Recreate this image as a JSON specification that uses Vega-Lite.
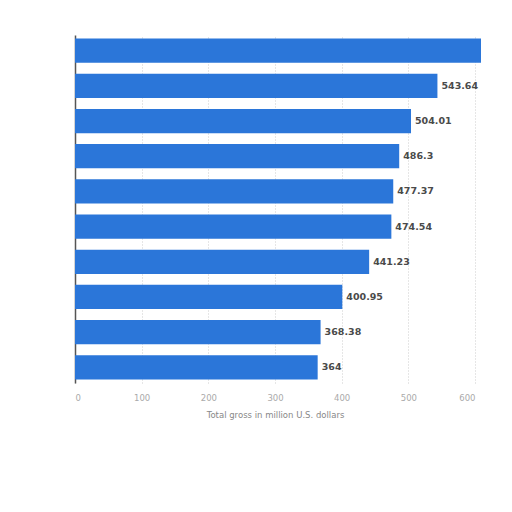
{
  "$schema": "https://vega.github.io/schema/vega-lite/v6.json",
  "width": 400,
  "height": 348,
  "autosize": "none",
  "padding": {"left": 75, "top": 35, "right": 37, "bottom": 129},
  "background": "white",
  "data": {
    "values": [
      {"rank": "1", "gross": 609, "label": ""},
      {"rank": "2", "gross": 543.64, "label": "543.64"},
      {"rank": "3", "gross": 504.01, "label": "504.01"},
      {"rank": "4", "gross": 486.3, "label": "486.3"},
      {"rank": "5", "gross": 477.37, "label": "477.37"},
      {"rank": "6", "gross": 474.54, "label": "474.54"},
      {"rank": "7", "gross": 441.23, "label": "441.23"},
      {"rank": "8", "gross": 400.95, "label": "400.95"},
      {"rank": "9", "gross": 368.38, "label": "368.38"},
      {"rank": "10", "gross": 364, "label": "364"}
    ]
  },
  "encoding": {
    "y": {
      "field": "rank",
      "type": "nominal",
      "sort": null,
      "scale": {"paddingInner": 0.31, "paddingOuter": 0.1},
      "axis": {"labels": false, "ticks": false, "title": null, "domainColor": "#555", "domainWidth": 1.5}
    },
    "x": {
      "field": "gross",
      "type": "quantitative",
      "scale": {"domain": [0, 600], "nice": false},
      "axis": {
        "values": [0, 100, 200, 300, 400, 500, 600],
        "title": "Total gross in million U.S. dollars",
        "titleFont": "DejaVu Sans",
        "titleFontSize": 8.5,
        "titleFontWeight": "normal",
        "titleColor": "#888",
        "titlePadding": 9,
        "labelFont": "DejaVu Sans",
        "labelFontSize": 8.5,
        "labelColor": "#aaa",
        "labelPadding": 10,
        "ticks": false,
        "domain": false,
        "gridColor": "#ccc",
        "gridDash": [1, 2]
      }
    }
  },
  "layer": [
    {"mark": {"type": "bar", "color": "#2b76d9", "clip": false}},
    {
      "mark": {"type": "text", "align": "left", "dx": 4, "font": "DejaVu Sans", "fontSize": 9.5, "fontWeight": "bold", "color": "#4a4a4a"},
      "encoding": {"text": {"field": "label"}}
    }
  ],
  "config": {"view": {"stroke": null}}
}
